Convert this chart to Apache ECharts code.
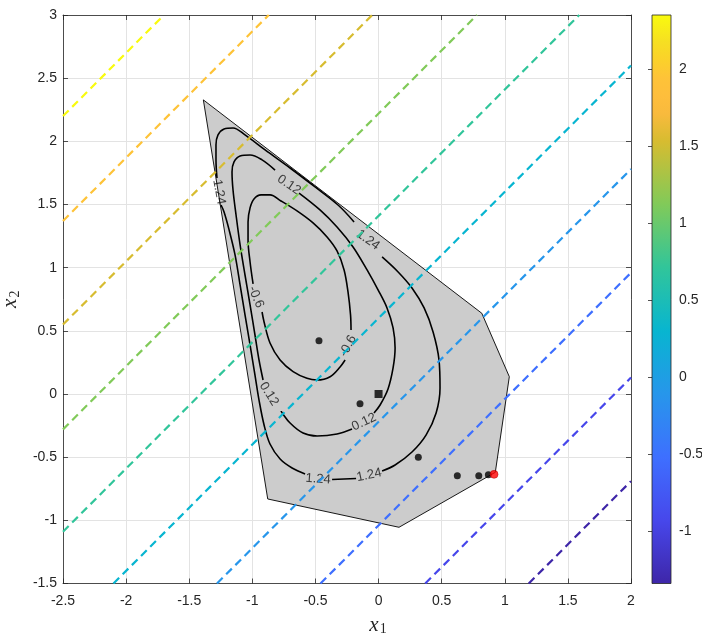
<!DOCTYPE html>
<html>
<head>
<meta charset="utf-8">
<script src="https://cdn.jsdelivr.net/npm/echarts@6/dist/echarts.min.js"></script>
<style>
  html, body { margin: 0; padding: 0; background: #fff; }
  #chart { width: 702px; height: 635px; }
</style>
</head>
<body>
<div id="chart"></div>
<script>
// colorbar range and ticks
const cbarMin = -1.34;
const cbarMax = 2.35;
const cbarTicks = [-1, -0.5, 0, 0.5, 1, 1.5, 2];

// dashed level lines (value, start and end where they meet the axes box)
const levelValues = [2.35, 1.94, 1.53, 1.12, 0.71, 0.30, -0.11, -0.52, -0.93, -1.34];
const levelStartX = [-2.5, -2.5, -2.5, -2.5, -2.5, -2.10, -1.28, -0.46, 0.37, 1.19];
const levelStartY = [2.20, 1.37, 0.55, -0.28, -1.09, -1.5, -1.5, -1.5, -1.5, -1.5];
const levelEndX = [-1.70, -0.87, -0.05, 0.78, 1.59, 2, 2, 2, 2, 2];
const levelEndY = [3, 3, 3, 3, 3, 2.60, 1.78, 0.96, 0.13, -0.69];

// gray feasible region
const polyX = [-1.388, 0.818, 1.036, 0.925, 0.162, -0.878];
const polyY = [2.328, 0.639, 0.137, -0.62, -1.055, -0.831];

// contour -0.6 (pieces between inline labels)
const contourLow = [
  [[-0.994, 0.871], [-1.018, 1.045], [-1.034, 1.219], [-1.034, 1.362], [-1.018, 1.473], [-0.987, 1.544],
   [-0.931, 1.576], [-0.860, 1.576], [-0.773, 1.528], [-0.646, 1.449], [-0.519, 1.354], [-0.408, 1.243],
   [-0.329, 1.132], [-0.273, 0.982], [-0.242, 0.808], [-0.222, 0.626], [-0.218, 0.507]],
  [[-0.265, 0.269], [-0.305, 0.214], [-0.384, 0.137], [-0.487, 0.111], [-0.567, 0.124], [-0.677, 0.177],
   [-0.780, 0.269], [-0.860, 0.404], [-0.907, 0.570], [-0.923, 0.649]]
];
// contour 0.12
const contourMid = [
  [[-0.630, 1.590], [-0.464, 1.457], [-0.329, 1.322], [-0.202, 1.164], [-0.091, 0.982], [-0.004, 0.824],
   [0.067, 0.681], [0.115, 0.523], [0.131, 0.364], [0.115, 0.206], [0.075, 0.040], [0.012, -0.087], [-0.036, -0.150]],
  [[-0.210, -0.277], [-0.329, -0.317], [-0.487, -0.333], [-0.598, -0.309], [-0.701, -0.230], [-0.773, -0.135]],
  [[-0.915, 0.111], [-0.947, 0.269], [-0.979, 0.467], [-1.018, 0.705], [-1.058, 0.942], [-1.097, 1.180],
   [-1.129, 1.417], [-1.153, 1.615], [-1.161, 1.758], [-1.145, 1.837], [-1.097, 1.884], [-1.018, 1.892],
   [-0.923, 1.853], [-0.820, 1.772]]
];
// contour 1.24
const contourHigh = [
  [[-1.280, 1.710], [-1.288, 1.853], [-1.288, 1.971], [-1.272, 2.051], [-1.224, 2.098], [-1.153, 2.106],
   [-1.058, 2.051], [-0.899, 1.932], [-0.701, 1.789], [-0.503, 1.639], [-0.321, 1.496], [-0.194, 1.362]],
  [[0.028, 1.085], [0.155, 0.966], [0.265, 0.839], [0.361, 0.681], [0.432, 0.491], [0.479, 0.269],
   [0.487, 0.048], [0.456, -0.150], [0.376, -0.325], [0.265, -0.459], [0.131, -0.562], [0.028, -0.610]],
  [[-0.178, -0.669], [-0.368, -0.677]],
  [[-0.582, -0.633], [-0.685, -0.586], [-0.780, -0.515], [-0.860, -0.396], [-0.907, -0.245], [-0.947, -0.048],
   [-0.979, 0.150], [-1.018, 0.388], [-1.058, 0.626], [-1.097, 0.863], [-1.137, 1.101], [-1.184, 1.299],
   [-1.224, 1.441], [-1.248, 1.496]]
];

// inline contour labels
const labelText = ['-0.6', '-0.6', '0.12', '0.12', '0.12', '1.24', '1.24', '1.24', '1.24'];
const labelX = [-0.971, -0.242, -0.709, -0.115, -0.868, -1.264, -0.083, -0.075, -0.479];
const labelY = [0.768, 0.380, 1.655, -0.222, 0.000, 1.599, 1.219, -0.642, -0.673];
const labelAngle = [-68, 62, -34, 25, -58, -80, -36, 12, -4];

// iterates
const dotX = [-0.472, -0.147, 0.315, 0.624, 0.794, 0.870];
const dotY = [0.422, -0.077, -0.501, -0.647, -0.647, -0.639];
const startPoint = [0, 0];
const lastPoint = [0.915, -0.636];

// parula colormap
const parula = [
  [0.000, [62, 38, 168]], [0.111, [71, 71, 235]], [0.222, [62, 111, 255]], [0.333, [39, 150, 235]],
  [0.444, [8, 181, 208]], [0.556, [49, 197, 154]], [0.667, [129, 202, 89]], [0.778, [215, 188, 48]],
  [0.825, [248, 186, 61]], [0.857, [254, 190, 60]], [0.889, [254, 195, 56]], [0.920, [251, 209, 42]],
  [0.952, [246, 223, 34]], [1.000, [249, 251, 14]]
];
const rgb = c => 'rgb(' + c.map(Math.round).join(',') + ')';
function parulaColor(v) {
  const t = Math.min(1, Math.max(0, (v - cbarMin) / (cbarMax - cbarMin)));
  for (let i = 1; i < parula.length; i++) {
    if (t <= parula[i][0]) {
      const [t0, c0] = parula[i - 1];
      const [t1, c1] = parula[i];
      const f = (t - t0) / (t1 - t0);
      return rgb(c0.map((c, k) => c + (c1[k] - c) * f));
    }
  }
  return rgb(parula[parula.length - 1][1]);
}

const axisColor = '#262626';
const font = 'Liberation Sans, Arial, sans-serif';
const serif = 'Liberation Serif, DejaVu Serif, serif';

const chart = echarts.init(document.getElementById('chart'));

const series = [];

// region
series.push({
  type: 'custom',
  xAxisIndex: 0, yAxisIndex: 0,
  z: 1,
  data: [[polyX[0], polyY[0]]],
  renderItem: (params, api) => ({
    type: 'polygon',
    shape: { points: polyX.map((x, i) => api.coord([x, polyY[i]])) },
    style: { fill: '#cccccc', stroke: '#000', lineWidth: 0.9 }
  })
});

// contours
[contourLow, contourMid, contourHigh].forEach(pieces => {
  pieces.forEach(piece => {
    series.push({
      type: 'line', xAxisIndex: 0, yAxisIndex: 0, z: 2,
      data: piece, symbol: 'none', smooth: 0.35,
      lineStyle: { color: '#000', width: 1.6 }
    });
  });
});

// labels
series.push({
  type: 'scatter', xAxisIndex: 0, yAxisIndex: 0, z: 3,
  symbolSize: 0,
  data: labelText.map((t, i) => ({
    value: [labelX[i], labelY[i]], name: t,
    label: { rotate: labelAngle[i] }
  })),
  label: {
    show: true, position: 'inside', formatter: p => p.name,
    color: '#111', fontSize: 13, fontFamily: font
  }
});

// dashed level lines
levelValues.forEach((v, i) => {
  series.push({
    type: 'line', xAxisIndex: 0, yAxisIndex: 0, z: 4,
    data: [[levelStartX[i], levelStartY[i]], [levelEndX[i], levelEndY[i]]],
    symbol: 'none',
    lineStyle: { color: parulaColor(v), width: 2.2, type: [8, 5] }
  });
});

// points
series.push({
  type: 'scatter', xAxisIndex: 0, yAxisIndex: 0, z: 5,
  symbol: 'circle', symbolSize: 7,
  itemStyle: { color: '#000' },
  data: dotX.map((x, i) => [x, dotY[i]])
});
series.push({
  type: 'scatter', xAxisIndex: 0, yAxisIndex: 0, z: 5,
  symbol: 'rect', symbolSize: 8,
  itemStyle: { color: '#000' },
  data: [startPoint]
});
series.push({
  type: 'scatter', xAxisIndex: 0, yAxisIndex: 0, z: 6,
  symbol: 'circle', symbolSize: 8,
  itemStyle: { color: '#ff0000', borderColor: '#b00000', borderWidth: 0.6 },
  data: [lastPoint]
});

// colorbar
const gradStops = parula.map(s => ({ offset: 1 - s[0], color: rgb(s[1]) })).reverse();
series.push({
  type: 'custom', xAxisIndex: 2, yAxisIndex: 2,
  data: [[0, cbarMin, 1, cbarMax]],
  renderItem: (params, api) => {
    const p0 = api.coord([api.value(0), api.value(3)]);
    const p1 = api.coord([api.value(2), api.value(1)]);
    return {
      type: 'rect',
      shape: { x: p0[0], y: p0[1], width: p1[0] - p0[0], height: p1[1] - p0[1] },
      style: { fill: new echarts.graphic.LinearGradient(0, 0, 0, 1, gradStops), stroke: axisColor, lineWidth: 0.8 }
    };
  }
});

const frameAxis = {
  axisLine: { show: true, onZero: false, lineStyle: { color: axisColor, width: 0.8 } },
  axisTick: { show: true, inside: true, length: 5, lineStyle: { color: axisColor, width: 0.8 } }
};

const option = {
  animation: false,
  backgroundColor: '#fff',
  grid: [
    { left: 63, right: 71, top: 15, bottom: 51.5, outerBoundsMode: 'none', containLabel: false },
    { left: 652, width: 19, top: 15, bottom: 51.5, outerBoundsMode: 'none', containLabel: false }
  ],
  xAxis: [
    Object.assign({
      type: 'value', gridIndex: 0, position: 'bottom', min: -2.5, max: 2, interval: 0.5,
      axisLabel: { color: axisColor, fontSize: 14, fontFamily: font, margin: 11 },
      splitLine: { show: true, lineStyle: { color: '#e3e3e3', width: 1 } },
      name: '{v|x}{s|1}', nameLocation: 'middle', nameGap: 30,
      nameTextStyle: {
        padding: [0, 0, 0, 62],
        rich: {
          v: { fontFamily: serif, fontStyle: 'italic', fontSize: 21, color: axisColor },
          s: { fontFamily: serif, fontSize: 14, color: axisColor, padding: [9, 0, 0, 1] }
        }
      }
    }, frameAxis),
    Object.assign({
      type: 'value', gridIndex: 0, position: 'top', min: -2.5, max: 2, interval: 0.5,
      axisLabel: { show: false }, splitLine: { show: false }
    }, frameAxis),
    { type: 'value', gridIndex: 1, min: 0, max: 1, show: false }
  ],
  yAxis: [
    Object.assign({
      type: 'value', gridIndex: 0, position: 'left', min: -1.5, max: 3, interval: 0.5,
      axisLabel: { color: axisColor, fontSize: 14, fontFamily: font, margin: 6 },
      splitLine: { show: true, lineStyle: { color: '#e3e3e3', width: 1 } },
      name: '{v|x}{s|2}', nameLocation: 'middle', nameGap: 30, nameRotate: 90,
      nameTextStyle: {
        rich: {
          v: { fontFamily: serif, fontStyle: 'italic', fontSize: 21, color: axisColor },
          s: { fontFamily: serif, fontSize: 14, color: axisColor, padding: [9, 0, 0, 1] }
        }
      }
    }, frameAxis),
    Object.assign({
      type: 'value', gridIndex: 0, position: 'right', min: -1.5, max: 3, interval: 0.5,
      axisLabel: { show: false }, splitLine: { show: false }
    }, frameAxis),
    {
      type: 'value', gridIndex: 1, position: 'right', min: cbarMin, max: cbarMax,
      axisLine: { show: false },
      axisTick: { show: true, inside: true, length: 4, customValues: cbarTicks, lineStyle: { color: axisColor, width: 0.8 } },
      axisLabel: { show: true, customValues: cbarTicks, color: axisColor, fontSize: 14, fontFamily: font, margin: 8 },
      splitLine: { show: false }
    }
  ],
  series: series
};

chart.setOption(option);
</script>
</body>
</html>
